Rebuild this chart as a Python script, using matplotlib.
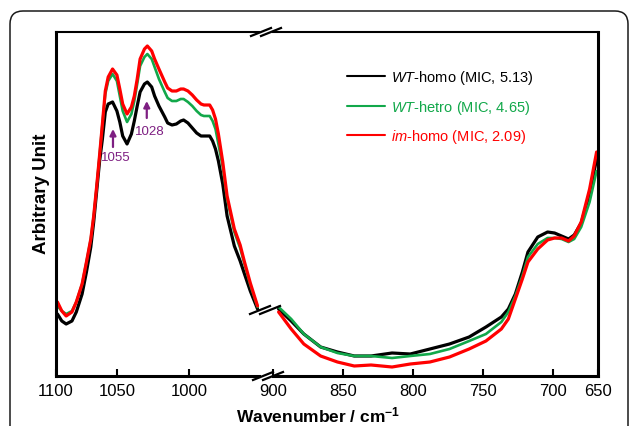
import matplotlib
matplotlib.use('Agg')
import matplotlib.pyplot as plt
from matplotlib.lines import Line2D
from matplotlib.patches import FancyBboxPatch

plt.rcParams['font.family'] = ['Liberation Sans', 'DejaVu Sans']
plt.rcParams['mathtext.fontset'] = 'custom'
plt.rcParams['mathtext.rm'] = 'Liberation Sans'
plt.rcParams['mathtext.it'] = 'Liberation Sans:italic'
plt.rcParams['mathtext.bf'] = 'Liberation Sans:bold'

# ---------------- data (arbitrary units) ----------------
wn_left = [1091, 1088, 1085, 1081, 1078, 1074, 1071, 1068, 1066, 1064,
           1062, 1060, 1058, 1056, 1053, 1050, 1048, 1046, 1043, 1040,
           1038, 1036, 1034, 1031, 1029, 1026, 1024, 1021, 1017, 1015,
           1012, 1009, 1006, 1004, 1001, 998, 995, 992, 990, 986,
           984, 982, 980, 977, 974, 969, 965, 962, 958, 953]
wt_homo_left = [62, 55, 52, 55, 64, 82, 104, 129, 154, 184,
                214, 237, 264, 272, 274, 265, 254, 240, 232, 242,
                255, 270, 284, 292, 294, 289, 280, 270, 259, 253,
                251, 252, 255, 256, 253, 248, 243, 240, 240, 240,
                235, 227, 215, 192, 160, 130, 115, 102, 85, 67]
wt_hetro_left = [70, 65, 62, 65, 74, 92, 114, 137, 160, 189,
                 220, 252, 282, 295, 302, 295, 280, 265, 254, 262,
                 275, 292, 310, 319, 322, 317, 309, 297, 284, 278,
                 275, 275, 277, 277, 274, 270, 265, 261, 260, 260,
                 255, 247, 232, 209, 177, 144, 128, 112, 91, 69]
im_homo_left = [74, 65, 60, 64, 74, 92, 114, 137, 160, 189,
                220, 252, 285, 299, 307, 301, 287, 272, 262, 269,
                280, 297, 317, 327, 330, 325, 317, 307, 294, 288,
                285, 285, 287, 287, 285, 281, 276, 272, 271, 271,
                266, 257, 242, 214, 180, 147, 131, 114, 93, 70]

wn_right = [896, 887, 878, 866, 854, 842, 830, 815, 802, 788,
            774, 760, 748, 737, 732, 727, 722, 718, 711, 704,
            699, 694, 689, 685, 680, 674, 669]
wt_homo_right = [67, 55, 42, 29, 24, 20, 20, 23, 22, 27,
                 32, 39, 49, 59, 67, 82, 104, 124, 139, 144,
                 143, 140, 137, 141, 153, 182, 217]
wt_hetro_right = [69, 57, 42, 29, 23, 20, 20, 18, 20, 22,
                  27, 35, 42, 54, 64, 80, 100, 119, 132, 138,
                  138, 137, 134, 137, 149, 174, 205]
im_homo_right = [64, 47, 32, 20, 14, 10, 11, 9, 12, 14,
                 19, 27, 35, 47, 57, 77, 97, 114, 127, 136,
                 138, 138, 135, 140, 154, 187, 224]

series_labels = [r'$\mathit{WT}$-homo (MIC, 5.13)',
                 r'$\mathit{WT}$-hetro (MIC, 4.65)',
                 r'$\mathit{im}$-homo (MIC, 2.09)']
series_colors = ['#000000', '#12A84A', '#FF0000']

left_ticks = [1092, 1050, 1000]
left_ticklabels = ['1100', '1050', '1000']
right_ticks = [900, 850, 800, 750, 700, 668]
right_ticklabels = ['900', '850', '800', '750', '700', '650']

peak_labels = ['1055', '1028']
peak_arrow_x = [1052.7, 1029.4]
peak_arrow_tail = [229, 258]
peak_arrow_tip = [247, 275]
peak_text_x = [1050.6, 1027.2]
peak_text_y = [219, 245]

# ---------------- figure ----------------
W, H = 630, 427
fig = plt.figure(figsize=(W / 100, H / 100), dpi=100)

# outer rounded frame
frame = FancyBboxPatch((0.10, -0.3), 6.18, 4.15 + 0.3,
                       boxstyle='round,pad=0,rounding_size=0.13',
                       transform=fig.dpi_scale_trans, fill=False,
                       edgecolor='#1a1a1a', lw=1.1, zorder=0)
fig.add_artist(frame)

ax1 = fig.add_axes([56 / W, 50 / H, 203 / W, 344 / H])
ax2 = fig.add_axes([273 / W, 50 / H, 325 / W, 344 / H])

lws = [2.3, 1.9, 2.3]
left_series = [wt_homo_left, wt_hetro_left, im_homo_left]
right_series = [wt_homo_right, wt_hetro_right, im_homo_right]
handles = []
for ys_l, ys_r, c, lw, lab in zip(left_series, right_series, series_colors, lws, series_labels):
    ax1.plot(wn_left, ys_l, color=c, lw=lw, solid_joinstyle='round', solid_capstyle='round')
    ln, = ax2.plot(wn_right, ys_r, color=c, lw=lw, solid_joinstyle='round',
                   solid_capstyle='round', label=lab)
    handles.append(ln)

ax1.set_xlim(1092, 952)
ax2.set_xlim(900, 668)
for ax in (ax1, ax2):
    ax.set_ylim(0, 344)
    ax.set_yticks([])
    ax.tick_params(axis='x', direction='in', length=5, width=1.5,
                   labelsize=12, pad=5, colors='black')
    ax.spines['top'].set_linewidth(1.5)
    ax.spines['bottom'].set_linewidth(2.2)
    ax.spines['left'].set_linewidth(2.2)
    ax.spines['right'].set_linewidth(2.2)

ax1.spines['right'].set_visible(False)
ax2.spines['left'].set_visible(False)
ax1.set_xticks(left_ticks)
ax1.set_xticklabels(left_ticklabels)
ax2.set_xticks(right_ticks)
ax2.set_xticklabels(right_ticklabels)

purple = '#7E1F82'
for lab, ax_x, y0, y1, tx, ty in zip(peak_labels, peak_arrow_x, peak_arrow_tail,
                                     peak_arrow_tip, peak_text_x, peak_text_y):
    ax1.annotate('', xy=(ax_x, y1), xytext=(ax_x, y0),
                 arrowprops=dict(arrowstyle='-|>', color=purple, lw=1.6,
                                 mutation_scale=9, shrinkA=0, shrinkB=0))
    ax1.text(tx, ty, lab, ha='center', va='center', color=purple, fontsize=9.5)

leg = ax2.legend(handles=handles, loc='upper left',
                 bbox_to_anchor=(347 / W, 1 - 69 / H), bbox_transform=fig.transFigure,
                 frameon=False, fontsize=10.5, handlelength=2.6, handletextpad=0.45,
                 labelspacing=0.8, borderpad=0, borderaxespad=0)
for t, c in zip(leg.get_texts(), series_colors):
    t.set_color(c)
for l in leg.get_lines():
    l.set_linewidth(1.5)

# break marks
def brk(xc, yc):
    for dx in (-5, 5):
        fig.add_artist(Line2D([(xc + dx - 10) / W, (xc + dx + 10) / W],
                              [1 - (yc + 4) / H, 1 - (yc - 4) / H],
                              transform=fig.transFigure, color='black', lw=1.6))

brk(266, 33)
brk(268, 377)
brk(265, 311)

fig.text(318 / W, 1 - 415 / H, r'Wavenumber / cm$^{\mathbf{-1}}$', ha='center', va='center',
         fontsize=12.5, fontweight='bold')
fig.text(42 / W, 1 - 194 / H, 'Arbitrary Unit', rotation=90, ha='center', va='center',
         fontsize=13.5, fontweight='bold')

fig.savefig('out.png', dpi=100)
